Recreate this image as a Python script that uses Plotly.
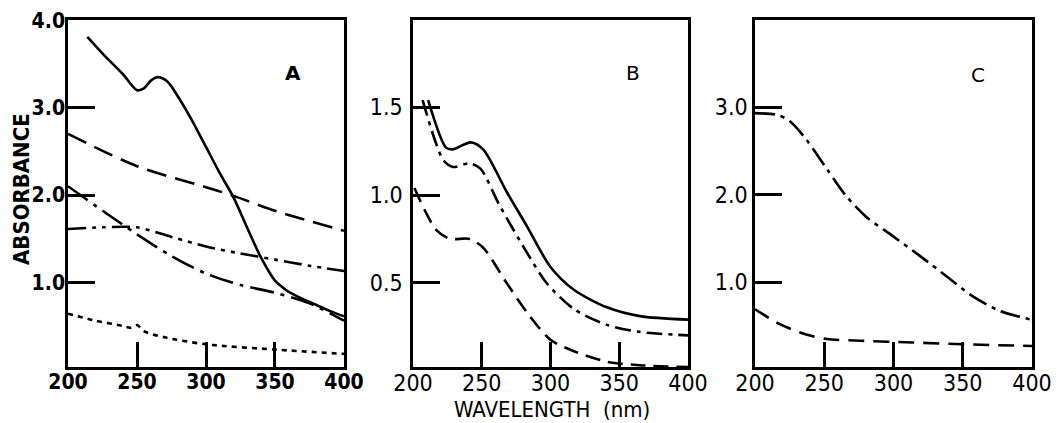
import plotly.graph_objects as go

# ---------------- Panel A ----------------
a_solid_x = [214, 225, 240, 250, 255, 260, 265, 272, 280, 290, 300, 310, 320, 330, 340, 350, 355, 360, 370, 380, 390, 400]
a_solid_y = [3.81, 3.62, 3.38, 3.20, 3.22, 3.31, 3.35, 3.30, 3.12, 2.85, 2.55, 2.25, 1.97, 1.62, 1.28, 1.02, 0.95, 0.89, 0.81, 0.74, 0.67, 0.61]

a_dash_x = [200, 250, 300, 320, 350, 400]
a_dash_y = [2.70, 2.33, 2.09, 1.99, 1.82, 1.59]

a_dashdot_x = [200, 225, 250, 275, 300, 325, 350, 375, 400]
a_dashdot_y = [2.10, 1.82, 1.55, 1.30, 1.10, 0.97, 0.88, 0.76, 0.56]

a_dashdotdot_x = [200, 225, 250, 275, 300, 325, 350, 375, 400]
a_dashdotdot_y = [1.61, 1.63, 1.63, 1.52, 1.41, 1.33, 1.26, 1.19, 1.13]

a_dot_x = [200, 220, 240, 245, 250, 255, 270, 300, 350, 400]
a_dot_y = [0.64, 0.56, 0.50, 0.48, 0.51, 0.44, 0.37, 0.29, 0.23, 0.18]

# ---------------- Panel B ----------------
b_solid_x = [211, 224, 229, 242, 251, 268, 283, 300, 317, 341, 365, 400]
b_solid_y = [1.54, 1.27, 1.26, 1.30, 1.26, 1.02, 0.82, 0.59, 0.46, 0.36, 0.31, 0.29]

b_dashdot_x = [207, 222, 229, 241, 249, 263, 283, 297, 317, 341, 365, 400]
b_dashdot_y = [1.54, 1.20, 1.16, 1.18, 1.15, 0.94, 0.67, 0.50, 0.35, 0.26, 0.22, 0.20]

b_dash_x = [201, 217, 227, 241, 251, 268, 283, 300, 317, 341, 365, 400]
b_dash_y = [1.04, 0.80, 0.75, 0.75, 0.70, 0.50, 0.33, 0.175, 0.11, 0.05, 0.03, 0.02]

# ---------------- Panel C ----------------
c_dashdot_x = [200, 216, 225, 237, 252, 266, 280, 300, 319, 338, 357, 377, 400]
c_dashdot_y = [2.93, 2.91, 2.84, 2.63, 2.29, 1.98, 1.75, 1.52, 1.30, 1.07, 0.84, 0.67, 0.57]

c_dash_x = [200, 218, 237, 252, 276, 314, 350, 400]
c_dash_y = [0.69, 0.52, 0.40, 0.35, 0.33, 0.31, 0.29, 0.27]

x_ticks = [200, 250, 300, 350, 400]
x_ticktext = ["200", "250", "300", "350", "400"]
a_yticks = [1, 2, 3, 4]
a_ytext = ["1.0", "2.0", "3.0", "4.0"]
b_yticks = [0.5, 1.0, 1.5]
b_ytext = ["0.5", "1.0", "1.5"]
c_yticks = [1, 2, 3]
c_ytext = ["1.0", "2.0", "3.0"]

COND = "DejaVu Sans Condensed, DejaVu Sans"
FONT = "DejaVu Sans"
LW = 2.6

# page body has a small margin: lay out in window pixels minus offset
OFF = 8
W, H = 1052, 415


def px_x(p):
    return (p - OFF) / W


def px_y(p):
    return 1 - (p - OFF) / H


fig = go.Figure()


def add(x, y, xa, ya, dash):
    fig.add_trace(go.Scatter(
        x=x, y=y, xaxis=xa, yaxis=ya, mode="lines",
        line=dict(color="black", width=LW, dash=dash, shape="spline", smoothing=0.8),
        showlegend=False, hoverinfo="skip"))


add(a_solid_x, a_solid_y, "x", "y", "solid")
add(a_dash_x, a_dash_y, "x", "y", "20px,9px")
add(a_dashdot_x, a_dashdot_y, "x", "y", "24px,7px,4px,7px")
add(a_dashdotdot_x, a_dashdotdot_y, "x", "y", "18px,6px,4px,6px,4px,6px")
add(a_dot_x, a_dot_y, "x", "y", "5px,5px")

add(b_solid_x, b_solid_y, "x2", "y2", "solid")
add(b_dashdot_x, b_dashdot_y, "x2", "y2", "16px,6px,4px,6px")
add(b_dash_x, b_dash_y, "x2", "y2", "15px,8px")

add(c_dashdot_x, c_dashdot_y, "x3", "y3", "20px,6px,4px,6px")
add(c_dash_x, c_dash_y, "x3", "y3", "16px,9px")


def xaxis(left, right, anchor, bold=False):
    return dict(domain=[px_x(left), px_x(right)], anchor=anchor, range=[199.99, 400.01], tickvals=x_ticks,
                ticktext=[f"<b>{t}</b>" if bold else t for t in x_ticktext],
                ticks="inside", ticklen=25, tickwidth=2.5, tickcolor="black",
                showline=True, linecolor="black", linewidth=2.5, mirror=True,
                showgrid=False, zeroline=False, automargin=False, ticklabelstandoff=-6,
                tickfont=dict(family=COND, size=21 if bold else 23, color="black"))


def yaxis(rng, vals, text, anchor, standoff, bold=False):
    return dict(domain=[px_y(367), px_y(19.5)], anchor=anchor, range=rng, tickvals=vals,
                ticktext=[f"<b>{t}</b>" if bold else t for t in text],
                ticks="inside", ticklen=27, tickwidth=2.5, tickcolor="black",
                showline=True, linecolor="black", linewidth=2.5, mirror=True,
                showgrid=False, zeroline=False, automargin=False, ticklabelstandoff=standoff,
                tickfont=dict(family=COND, size=21 if bold else 23, color="black"))


def note(text, x, y, size, family=FONT, angle=0):
    return dict(text=text, x=px_x(x), y=px_y(y), xref="paper", yref="paper", showarrow=False,
                xanchor="center", yanchor="middle", textangle=angle,
                font=dict(family=family, size=size, color="black"))


fig.update_layout(
    template="none",
    width=W, height=H, autosize=False,
    margin=dict(l=0, r=0, t=0, b=0, pad=0),
    paper_bgcolor="white", plot_bgcolor="white",
    xaxis=xaxis(68, 344, "y", bold=True),
    xaxis2=xaxis(413, 688, "y2"),
    xaxis3=xaxis(755, 1032, "y3"),
    yaxis=yaxis([0.03, 4.01], a_yticks, a_ytext, "x", -4, bold=True),
    yaxis2=yaxis([0.02, 2.0], b_yticks, b_ytext, "x2", 3),
    yaxis3=yaxis([0.03, 4.0], c_yticks, c_ytext, "x3", 0),
    annotations=[
        note("<b>A</b>", 293, 73, 20),
        note("B", 633, 73, 20),
        note("C", 978, 75, 20),
        note("<b>ABSORBANCE</b>", 21, 189, 22, family=COND, angle=-90),
        note("WAVELENGTH  (nm)", 552, 409, 22, family=COND),
    ],
)

fig.write_html("out.html")
